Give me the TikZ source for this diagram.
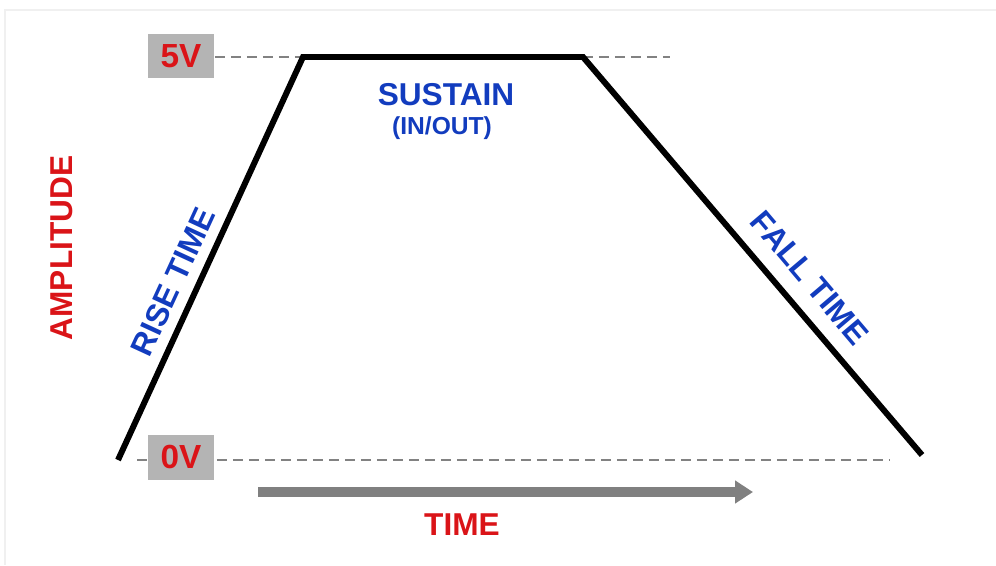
\documentclass[tikz,border=0pt]{standalone}
\usepackage{fontspec}
\setmainfont{Liberation Sans}
\usetikzlibrary{arrows.meta}
\definecolor{voltred}{RGB}{218,20,24}
\definecolor{labelblue}{RGB}{18,60,190}
\definecolor{boxgray}{RGB}{180,180,180}
\definecolor{dashgray}{RGB}{130,130,130}
\definecolor{arrowgray}{RGB}{128,128,128}
\tikzset{
	voltbox/.style={fill=boxgray,minimum width=1.34cm,minimum height=0.9cm,inner sep=0pt,text=voltred,font=\bfseries\fontsize{19}{19}\selectfont},
	level/.style={draw=dashgray,line width=1.6pt,dash pattern=on 0.2cm off 0.12cm},
	bluelabel/.style={text=labelblue,font=\bfseries\fontsize{18}{18}\selectfont,inner sep=0pt},
	redlabel/.style={text=voltred,font=\bfseries\fontsize{18}{18}\selectfont,inner sep=0pt}
}
\begin{document}
\begin{tikzpicture}[x=0.02cm,y=-0.02cm]
	\useasboundingbox (0,0) rectangle (996,565);
	% faint frame
	\draw[black!6,line width=1.5pt] (5,565) -- (5,10) -- (996,10);
	% levels
	\coordinate (top end) at (670,57);
	\coordinate (low start) at (137,460);
	\coordinate (low end) at (889,460);
	\node[voltbox] (five) at (181,56) {5V};
	\draw[level] (five.east |- top end) -- (top end);
	\draw[level] (low start) -- (low end);
	\node[voltbox] (zero) at (181,457) {0V};
	% pulse
	\coordinate (p0) at (118,460);
	\coordinate (p1) at (303,57);
	\coordinate (p2) at (583,57);
	\coordinate (p3) at (922,455);
	\draw[line width=3.4pt,line join=miter] (p0) -- (p1) -- (p2) -- (p3);
	% time arrow
	\coordinate (t0) at (258,492);
	\coordinate (t1) at (753,492);
	\draw[arrowgray,line width=5.6pt,-{Triangle[length=0.36cm,width=0.44cm]}] (t0) -- (t1);
	% labels
	\node[bluelabel] (sustain) at (446,95) {SUSTAIN};
	\node[bluelabel,font=\bfseries\fontsize{14}{14}\selectfont] (inout) at (442,128) {(IN/OUT)};
	\node[bluelabel,rotate=65.3] (rise) at (173,282) {RISE TIME};
	\node[bluelabel,rotate=-49.7] (fall) at (810,278) {FALL TIME};
	\node[redlabel,rotate=90] (amp) at (62,248) {AMPLITUDE};
	\node[redlabel] (time) at (462,525) {TIME};
\end{tikzpicture}
\end{document}
